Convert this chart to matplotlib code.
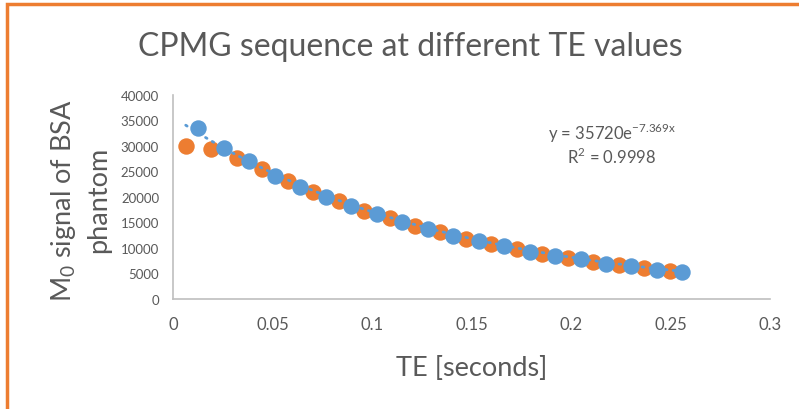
import numpy as np
import matplotlib
matplotlib.use('Agg')
import matplotlib.pyplot as plt
from matplotlib.patches import Rectangle

plt.rcParams['font.family'] = ['Lato', 'DejaVu Sans']

# Echo times (s) and measured signal, two interleaved echo trains.
te_orange = [0.0064, 0.0192, 0.032, 0.0448, 0.0576, 0.0704, 0.0832, 0.096, 0.1088, 0.1216,
             0.1344, 0.1472, 0.16, 0.1728, 0.1856, 0.1984, 0.2112, 0.224, 0.2368, 0.2496]
sig_orange = [30070, 29410, 27650, 25500, 23080, 21040, 19150, 17320, 15820, 14380,
              13080, 11770, 10790, 9800, 8820, 7980, 7320, 6730, 6080, 5430]

te_blue = [0.0128, 0.0256, 0.0384, 0.0512, 0.064, 0.0768, 0.0896, 0.1024, 0.1152, 0.128,
           0.1408, 0.1536, 0.1664, 0.1792, 0.192, 0.2048, 0.2176, 0.2304, 0.2432, 0.256]
sig_blue = [33470, 29680, 27000, 24180, 21900, 19940, 18300, 16670, 15160, 13730,
            12410, 11440, 10330, 9280, 8490, 7840, 6860, 6410, 5750, 5230]

# exponential trendline
fit_a = 35720
fit_b = -7.369
fit_r2 = 0.9998

xticks = [0, 0.05, 0.1, 0.15, 0.2, 0.25, 0.3]
xticklabels = ['0', '0.05', '0.1', '0.15', '0.2', '0.25', '0.3']
yticks = list(range(0, 40001, 5000))

blue = '#5B9BD5'
orange = '#ED7D31'
grey = '#595959'

fig = plt.figure(figsize=(7.99, 4.10), dpi=100)
ax = fig.add_axes([0.2165, 0.2683, 0.7472, 0.4976])

ax.scatter(te_orange, sig_orange, s=140, color=orange, zorder=3, linewidths=0)
ax.scatter(te_blue, sig_blue, s=140, color=blue, zorder=3, linewidths=0)

tx = np.linspace(0.0064, 0.256, 200)
ax.plot(tx, fit_a * np.exp(fit_b * tx), color=blue, lw=2, ls=(0, (0.6, 2.2)),
        dash_capstyle='round', zorder=4)

ax.set_xlim(0, 0.3)
ax.set_ylim(0, 40000)
ax.set_xticks(xticks)
ax.set_xticklabels(xticklabels)
ax.set_yticks(yticks)
ax.tick_params(length=0)
ax.tick_params(axis='x', labelsize=12, colors=grey, pad=12)
ax.tick_params(axis='y', labelsize=9.5, colors=grey, pad=10)
for s in ['top', 'right']:
    ax.spines[s].set_visible(False)
for s in ['left', 'bottom']:
    ax.spines[s].set_color('#BFBFBF')
    ax.spines[s].set_linewidth(1.2)

ax.text(0.2206, 32600, 'y = %de$^{\\mathregular{%.3fx}}$' % (fit_a, fit_b), fontsize=12,
        color=grey, ha='center', va='center')
ax.text(0.2206, 28000, 'R$^{\\mathregular{2}}$ = %.4f' % fit_r2, fontsize=12, color=grey,
        ha='center', va='center')

fig.text(0.513, 0.885, 'CPMG sequence at different TE values', fontsize=23,
         color=grey, ha='center', va='center')
fig.text(0.59, 0.1, 'TE [seconds]', fontsize=19.5, color=grey, ha='center', va='center')
fig.text(0.1, 0.512, 'M$_\\mathregular{0}$ signal of BSA\nphantom', fontsize=19.5, color=grey,
         ha='center', va='center', rotation=90, linespacing=1.4)

# orange frame along the top and left edge
fig.patches.append(Rectangle((0.009, -0.1), 1.2, 1.088, transform=fig.transFigure,
                             fill=False, edgecolor=orange, lw=2.5))

fig.savefig('out.png', dpi=100)
